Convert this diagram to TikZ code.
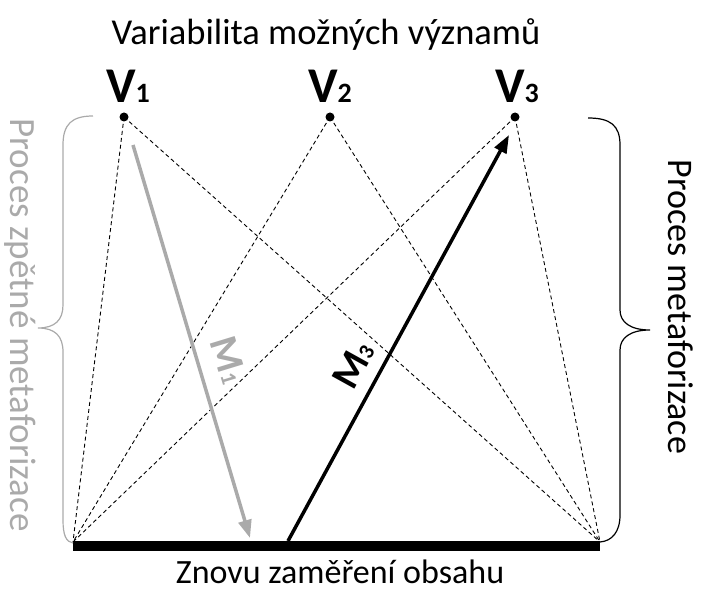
\documentclass[tikz,border=0pt]{standalone}
\usepackage{fontspec}
\setmainfont{Carlito}
\usepackage{tikz}
\usetikzlibrary{arrows.meta, calc}
\definecolor{backgray}{RGB}{170,170,170}

\begin{document}
\begin{tikzpicture}[x=1pt, y=-1pt,
        vdot/.style={circle, fill=black, inner sep=0pt, minimum size=9pt},
        vlabel/.style={font=\fontsize{50}{50}\selectfont\bfseries, inner sep=0pt},
        link/.style={dashed, dash pattern=on 4pt off 3pt, line width=0.9pt},
        caption/.style={font=\fontsize{34}{34}\selectfont, inner sep=0pt},
        side/.style={font=\fontsize{36}{36}\selectfont, rotate=-90, inner sep=0pt},
        mlabel/.style={font=\fontsize{40}{40}\selectfont\bfseries, inner sep=0pt},
        arr/.style={-{Triangle[length=18pt, width=13pt]}, line width=3.5pt}
    ]
    \useasboundingbox (0,0) rectangle (703,593);

    \node[caption, font=\fontsize{36.5}{36.5}\selectfont] (title) at (326,35) {Variabilita možných významů};
    \node[vlabel] (l1) at (128,86) {V{\fontsize{28}{28}\selectfont 1}};
    \node[vlabel] (l2) at (330,86) {V{\fontsize{28}{28}\selectfont 2}};
    \node[vlabel] (l3) at (517,86) {V{\fontsize{28}{28}\selectfont 3}};

    \node[vdot] (v1) at (124,117) {};
    \node[vdot] (v2) at (330,117) {};
    \node[vdot] (v3) at (515,117) {};

    \coordinate (bl) at (73,542);
    \coordinate (br) at (600,542);

    \foreach \v in {v1,v2,v3} {
        \draw[link] (\v.center) -- (bl);
        \draw[link] (\v.center) -- (br);
    }

    % zakladna
    \draw[line width=10pt] ($(bl)+(0,4)$) -- ($(br)+(0,4)$);
    \node[caption, anchor=base] (base) at (340,583) {Znovu zaměření obsahu};

    % sipky M1, M3
    \coordinate (m1s) at (133,145);
    \coordinate (m1e) at (250,538);
    \coordinate (m3s) at (288,541);
    \coordinate (m3e) at (509,135);
    \draw[arr, backgray] (m1s) -- (m1e);
    \draw[arr] (m3s) -- (m3e);
    \node[mlabel, text=backgray, rotate=-73] (lm1) at (229,360) {M{\fontsize{22}{22}\selectfont 1}};
    \node[mlabel, rotate=61] (lm3) at (353,365) {M{\fontsize{22}{22}\selectfont 3}};

    % zavorky
    \draw[backgray, line width=1.2pt] (93,116) .. controls (72,116) and (63,124) .. (63,145) -- (63,305)
        .. controls (63,320) and (55,328) .. (38,328) .. controls (55,328) and (63,336) .. (63,352)
        -- (63,520) .. controls (63,535) and (66,542) .. (73,543);
    \draw[line width=1.2pt] (588,118) .. controls (610,118) and (620,125) .. (620,145) -- (620,310)
        .. controls (620,322) and (630,330) .. (650,330) .. controls (630,330) and (620,338) .. (620,350)
        -- (620,515) .. controls (620,532) and (612,541) .. (600,542);
    \node[side, text=backgray, font=\fontsize{37}{37}\selectfont] (zpet) at (20,325) {Proces zpětné metaforizace};
    \node[side] (meta) at (681,307) {Proces metaforizace};
\end{tikzpicture}
\end{document}
